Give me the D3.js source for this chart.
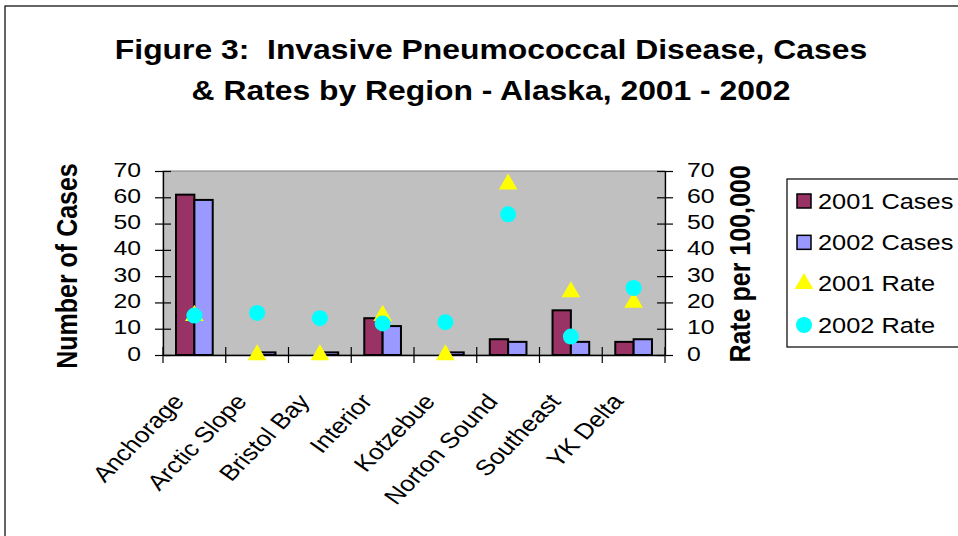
<!DOCTYPE html>
<html lang="en">
<head>
  <meta charset="utf-8">
  <title>Invasive Pneumococcal Disease</title>
  <style>
    body { margin: 0; background: #fff; }
    svg text { font-family: Arial, "Liberation Sans", sans-serif; fill: #000; }
  </style>
</head>
<body>
  <div id="chart"></div>
  <script src="https://d3js.org/d3.v7.min.js"></script>
  <script>
    // data
    var regions = ["Anchorage", "Arctic Slope", "Bristol Bay", "Interior", "Kotzebue", "Norton Sound", "Southeast", "YK Delta"];
    var cases2001 = [61, 0, 0, 14, 0, 6, 17, 5];
    var cases2002 = [59, 1, 1, 11, 1, 5, 5, 6];
    var rate2001 = [15, 0, 0, 15, 0, 65, 24, 20];
    var rate2002 = [15, 16, 14, 12, 12.5, 53.5, 7, 25.5];
    var yTicks = [0, 10, 20, 30, 40, 50, 60, 70];
    var seriesNames = ["2001 Cases", "2002 Cases", "2001 Rate", "2002 Rate"];

    var w = 958, h = 536;
    var pLeft = 163, pRight = 665, pTop = 171, pBottom = 355;
    var sx = 1.18; // the original picture is stretched sideways

    var svg = d3.select("#chart").append("svg")
      .attr("width", w).attr("height", h);

    function stretched(g, x, y, rot) {
      return g.append("text")
        .attr("transform", "translate(" + x + "," + y + ") scale(" + sx + ",1)" + (rot ? " rotate(" + rot + ")" : ""));
    }

    // outer chart border (cut off at right/bottom)
    svg.append("rect")
      .attr("x", 5).attr("y", 6)
      .attr("width", 1000).attr("height", 600)
      .attr("fill", "none").attr("stroke", "#000").attr("stroke-width", 1.2);

    stretched(svg, 491, 59).attr("text-anchor", "middle")
      .style("font-size", "27px").style("font-weight", "bold")
      .text("Figure 3:\u00a0 Invasive Pneumococcal Disease, Cases");
    stretched(svg, 491, 100).attr("text-anchor", "middle")
      .style("font-size", "27px").style("font-weight", "bold")
      .text("& Rates by Region - Alaska, 2001 - 2002");

    var x = d3.scaleBand().domain(regions).range([pLeft, pRight]).padding(0);
    var sub = d3.scaleBand().domain(["a", "b"]).range([0, x.bandwidth()]).paddingInner(0).paddingOuter(0.71);
    var yL = d3.scaleLinear().domain([0, 70]).range([pBottom, pTop]);
    var yR = d3.scaleLinear().domain([0, 70]).range([pBottom, pTop]);

    // plot area
    svg.append("rect")
      .attr("x", pLeft).attr("y", pTop)
      .attr("width", pRight - pLeft).attr("height", pBottom - pTop)
      .attr("fill", "#c0c0c0").attr("stroke", "#808080").attr("stroke-width", 1);

    // bars
    var barData = [];
    regions.forEach(function(r, i) {
      barData.push({ r: r, k: "a", v: cases2001[i], c: "#993366" });
      barData.push({ r: r, k: "b", v: cases2002[i], c: "#9999ff" });
    });
    svg.append("g").selectAll("rect").data(barData.filter(function(d) { return d.v > 0; }))
      .enter().append("rect")
      .attr("x", function(d) { return x(d.r) + sub(d.k); })
      .attr("y", function(d) { return yL(d.v); })
      .attr("width", sub.bandwidth())
      .attr("height", function(d) { return yL(0) - yL(d.v); })
      .attr("fill", function(d) { return d.c; })
      .attr("stroke", "#000").attr("stroke-width", 2);

    // axes
    var axL = d3.axisLeft(yL).tickValues(yTicks).tickSizeInner(8).tickSizeOuter(0).tickFormat("");
    var gL = svg.append("g").attr("transform", "translate(" + pLeft + ",0)").call(axL);
    var axR = d3.axisRight(yR).tickValues(yTicks).tickSizeInner(8).tickSizeOuter(0).tickFormat("");
    var gR = svg.append("g").attr("transform", "translate(" + pRight + ",0)").call(axR);
    [gL, gR].forEach(function(g) {
      g.select(".domain").attr("stroke", "#000").attr("stroke-width", 1.3);
      g.selectAll(".tick line").attr("stroke", "#000").attr("stroke-width", 1.2);
    });
    gL.selectAll(".tick line").attr("x1", 8);
    gR.selectAll(".tick line").attr("x1", -8);

    // tick labels, stretched like the original
    var lblL = svg.append("g"), lblR = svg.append("g");
    yTicks.forEach(function(t) {
      stretched(lblL, 141, yL(t) - 2).attr("text-anchor", "end").attr("dy", "0.36em")
        .style("font-size", "21px").text(t);
      stretched(lblR, 687, yR(t) - 2).attr("text-anchor", "start").attr("dy", "0.36em")
        .style("font-size", "21px").text(t);
    });

    var axB = d3.axisBottom(x).tickSize(0).tickFormat("");
    var gB = svg.append("g").attr("transform", "translate(0," + pBottom + ")").call(axB);
    gB.select(".domain").attr("stroke", "#000").attr("stroke-width", 1.3);
    // category separators
    var seps = regions.map(function(r) { return x(r); }).concat([pRight]);
    gB.selectAll(".sep").data(seps).enter().append("line")
      .attr("x1", function(d) { return d; }).attr("x2", function(d) { return d; })
      .attr("y1", -8).attr("y2", 8)
      .attr("stroke", "#000").attr("stroke-width", 1.2);

    // category labels
    var gCat = svg.append("g");
    regions.forEach(function(r) {
      stretched(gCat, x(r) + x.bandwidth() / 2 - 9, pBottom + 47, -50)
        .attr("text-anchor", "end")
        .style("font-size", "22px")
        .text(r);
    });

    // markers
    var tri = d3.symbol().type(d3.symbolTriangle).size(150);
    svg.append("g").selectAll("path").data(rate2001).enter().append("path")
      .attr("d", tri)
      .attr("transform", function(d, i) { return "translate(" + (x(regions[i]) + x.bandwidth() / 2) + "," + yR(d) + ")"; })
      .attr("fill", "#ffff00");
    svg.append("g").selectAll("circle").data(rate2002).enter().append("circle")
      .attr("cx", function(d, i) { return x(regions[i]) + x.bandwidth() / 2; })
      .attr("cy", function(d) { return yR(d); })
      .attr("r", 8)
      .attr("fill", "#00ffff");

    // axis titles
    stretched(svg, 77, 266, -90).attr("text-anchor", "middle")
      .style("font-size", "25px").style("font-weight", "bold")
      .text("Number of Cases");
    stretched(svg, 750, 264, -90).attr("text-anchor", "middle")
      .style("font-size", "25px").style("font-weight", "bold")
      .text("Rate per 100,000");

    // legend
    var lg = svg.append("g");
    lg.append("rect")
      .attr("x", 787).attr("y", 179).attr("width", 300).attr("height", 168)
      .attr("fill", "#fff").attr("stroke", "#000").attr("stroke-width", 1.2);
    var rowY = d3.scalePoint().domain(seriesNames).range([201, 325]);
    seriesNames.forEach(function(s) {
      stretched(lg, 818, rowY(s)).attr("dy", "0.36em")
        .style("font-size", "21.5px")
        .text(s);
    });
    lg.append("rect").attr("x", 797).attr("y", rowY("2001 Cases") - 7).attr("width", 14).attr("height", 14)
      .attr("fill", "#993366").attr("stroke", "#000").attr("stroke-width", 1.5);
    lg.append("rect").attr("x", 797).attr("y", rowY("2002 Cases") - 7).attr("width", 14).attr("height", 14)
      .attr("fill", "#9999ff").attr("stroke", "#000").attr("stroke-width", 1.5);
    lg.append("path").attr("d", tri)
      .attr("transform", "translate(804," + rowY("2001 Rate") + ")").attr("fill", "#ffff00");
    lg.append("circle").attr("cx", 804).attr("cy", rowY("2002 Rate")).attr("r", 8).attr("fill", "#00ffff");
  </script>
</body>
</html>
